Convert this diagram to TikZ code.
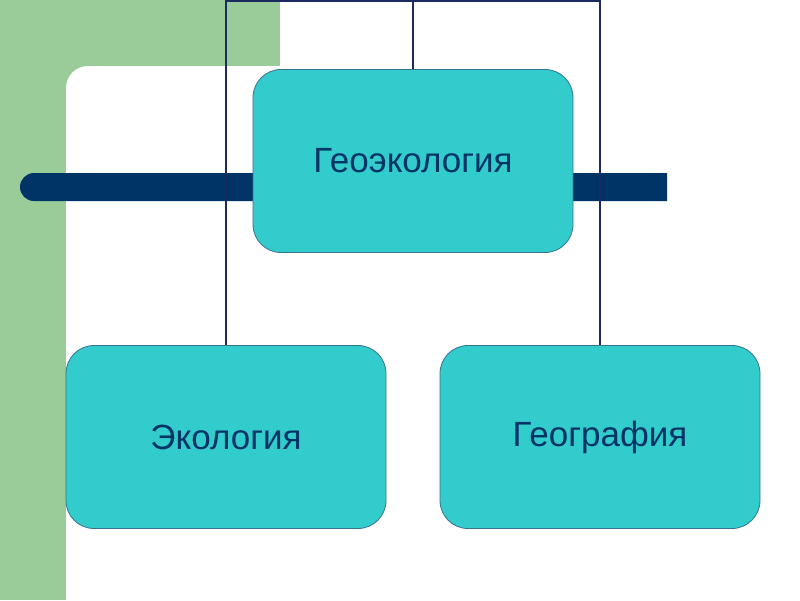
\documentclass[tikz,border=0pt]{standalone}
\usepackage{fontspec}
\setmainfont{Liberation Sans}
\definecolor{leafgreen}{RGB}{153,204,153}
\definecolor{navybar}{RGB}{0,51,102}
\definecolor{linkblue}{RGB}{28,42,98}
\definecolor{tealfill}{RGB}{51,204,204}
\definecolor{tealedge}{RGB}{55,115,145}
\usetikzlibrary{positioning}

\begin{document}
\begin{tikzpicture}[
  x=1pt, y=-1pt,
  topic/.style={
    draw=tealedge, line width=0.8pt, rounded corners=28pt, fill=tealfill,
    minimum width=320pt, minimum height=183pt, align=center,
    text=navybar, font=\fontsize{35}{42}\selectfont
  },
  link/.style={draw=linkblue, line width=1.8pt},
  bar/.style={fill=navybar}
]
\useasboundingbox (0,0) rectangle (800,600);
% background
\fill[leafgreen] (0,0) rectangle (800,600);
\fill[white] (280,0) rectangle (800,66);
\fill[white, rounded corners=22pt] (66,66) rectangle (830,630);
% navy bar
\fill[bar] (667,173) -- (34,173) arc[start angle=270, end angle=90, radius=14] -- (667,201) -- cycle;

\node[topic] (geoeco) at (413,161) {Геоэкология};
\node[topic] (eco) at (226,437) {Экология};
\node[topic] (geo) at (600,437) {География};

\coordinate (topl) at (226,1);
\coordinate (topr) at (600,1);
\draw[link] (eco.north) -- (topl) -- (topr) -- (geo.north);
\draw[link] (geoeco.north) -- (geoeco.north |- topl);
\end{tikzpicture}
\end{document}
